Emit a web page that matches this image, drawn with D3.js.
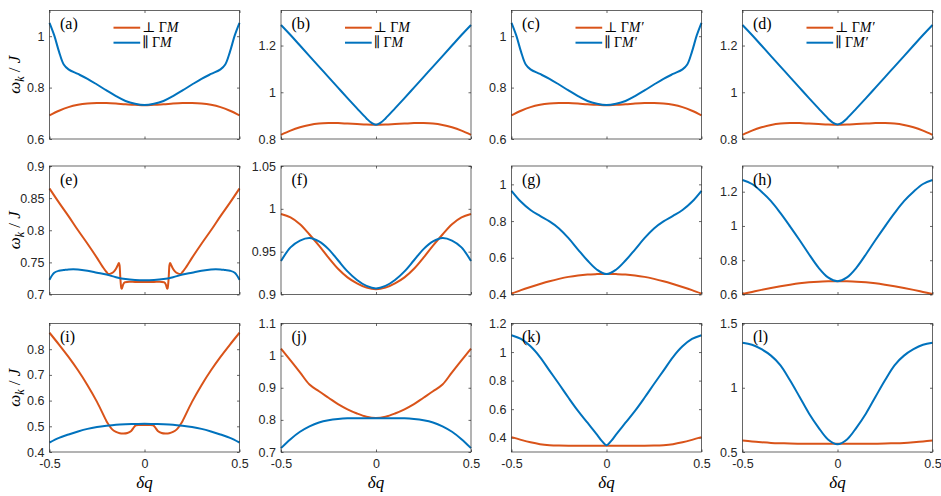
<!DOCTYPE html>
<html>
<head>
<meta charset="utf-8">
<script src="https://cdn.jsdelivr.net/npm/d3@7"></script>
<style>
  html, body { margin: 0; padding: 0; background: #fff; }
  svg { display: block; }
</style>
</head>
<body>
<svg id="chart" width="941" height="496"></svg>
<script>
// ---------------- DATA ----------------
const dq = [-0.5,-0.45,-0.4,-0.35,-0.3,-0.25,-0.2,-0.15,-0.1,-0.05,0,0.05,0.1,0.15,0.2,0.25,0.3,0.35,0.4,0.45,0.5];
const dqEdge = [-0.5,-0.475,-0.45,-0.425,-0.4,-0.35,-0.3,-0.25,-0.2,-0.15,-0.1,-0.05,0,0.05,0.1,0.15,0.2,0.25,0.3,0.35,0.4,0.425,0.45,0.475,0.5];
const dqV = [-0.5,-0.45,-0.4,-0.35,-0.3,-0.25,-0.2,-0.15,-0.1,-0.05,-0.025,0,0.025,0.05,0.1,0.15,0.2,0.25,0.3,0.35,0.4,0.45,0.5];
const dqSpikeE = [-0.5,-0.45,-0.4,-0.35,-0.3,-0.25,-0.22,-0.2,-0.19,-0.175,-0.16,-0.15,-0.14,-0.135,-0.131,-0.127,-0.122,-0.119,-0.113,-0.103,-0.08,-0.05,0,
                  0.05,0.08,0.103,0.113,0.119,0.122,0.127,0.131,0.135,0.14,0.15,0.16,0.175,0.19,0.2,0.22,0.25,0.3,0.35,0.4,0.45,0.5];
const dqDipI = [-0.5,-0.45,-0.4,-0.35,-0.3,-0.25,-0.2,-0.19,-0.17,-0.15,-0.13,-0.11,-0.09,-0.07,-0.055,-0.045,-0.02,0,
                0.02,0.045,0.055,0.07,0.09,0.11,0.13,0.15,0.17,0.19,0.2,0.25,0.3,0.35,0.4,0.45,0.5];

const xTicks = [-0.5, 0, 0.5];
const panelLabels = ["(a)","(b)","(c)","(d)","(e)","(f)","(g)","(h)","(i)","(j)","(k)","(l)"];
const yDomains = [[0.6,1.1],[0.8,1.35],[0.6,1.1],[0.8,1.35],
                  [0.7,0.9],[0.9,1.05],[0.4,1.1],[0.6,1.35],
                  [0.4,0.9],[0.7,1.1],[0.3,1.2],[0.5,1.5]];
const yTicks = [[0.6,0.8,1],[0.8,1,1.2],[0.6,0.8,1],[0.8,1,1.2],
                [0.7,0.75,0.8,0.85,0.9],[0.9,0.95,1,1.05],[0.4,0.6,0.8,1],[0.6,0.8,1,1.2],
                [0.4,0.5,0.6,0.7,0.8],[0.7,0.8,0.9,1,1.1],[0.4,0.6,0.8,1,1.2],[0.5,1,1.5]];

// perpendicular (orange) series
const perpA = [0.692,0.710,0.724,0.733,0.738,0.740,0.740,0.738,0.735,0.733,0.731,0.733,0.735,0.738,0.740,0.740,0.738,0.733,0.724,0.710,0.692];
const perpB = [0.818,0.836,0.850,0.860,0.866,0.868,0.868,0.866,0.864,0.862,0.861,0.862,0.864,0.866,0.868,0.868,0.866,0.860,0.850,0.836,0.818];
const perpC = [0.692,0.710,0.724,0.733,0.738,0.740,0.740,0.738,0.735,0.733,0.731,0.733,0.735,0.738,0.740,0.740,0.738,0.733,0.724,0.710,0.692];
const perpD = [0.818,0.836,0.850,0.860,0.866,0.868,0.868,0.866,0.864,0.862,0.861,0.862,0.864,0.866,0.868,0.868,0.866,0.860,0.850,0.836,0.818];
const perpE = [0.865,0.843,0.822,0.800,0.779,0.757,0.743,0.735,0.732,0.733,0.736,0.740,0.746,0.749,0.745,0.725,0.710,0.709,0.715,0.719,0.7198,0.7196,0.7195,
               0.7196,0.7198,0.719,0.715,0.709,0.710,0.725,0.745,0.749,0.746,0.740,0.736,0.733,0.732,0.735,0.743,0.757,0.779,0.800,0.822,0.843,0.865];
const perpF = [0.994,0.990,0.982,0.970,0.957,0.943,0.930,0.920,0.913,0.908,0.906,0.908,0.913,0.920,0.930,0.943,0.957,0.970,0.982,0.990,0.994];
const perpG = [0.405,0.424,0.441,0.457,0.472,0.485,0.496,0.504,0.509,0.511,0.512,0.511,0.509,0.504,0.496,0.485,0.472,0.457,0.441,0.424,0.405];
const perpH = [0.603,0.615,0.627,0.638,0.648,0.657,0.665,0.671,0.675,0.677,0.678,0.677,0.675,0.671,0.665,0.657,0.648,0.638,0.627,0.615,0.603];
const perpI = [0.864,0.818,0.770,0.718,0.660,0.595,0.520,0.508,0.488,0.478,0.473,0.472,0.474,0.482,0.497,0.504,0.505,0.505,
               0.505,0.504,0.497,0.482,0.474,0.472,0.473,0.478,0.488,0.508,0.520,0.595,0.660,0.718,0.770,0.818,0.864];
const perpJ = [1.022,0.985,0.948,0.910,0.889,0.869,0.849,0.833,0.820,0.810,0.806,0.810,0.820,0.833,0.849,0.869,0.889,0.910,0.948,0.985,1.022];
const perpK = [0.404,0.385,0.368,0.355,0.348,0.345,0.344,0.344,0.344,0.344,0.344,0.344,0.344,0.344,0.344,0.345,0.348,0.355,0.368,0.385,0.404];
const perpL = [0.590,0.582,0.576,0.571,0.568,0.566,0.565,0.565,0.565,0.565,0.565,0.565,0.565,0.565,0.565,0.566,0.568,0.571,0.576,0.582,0.590];

// parallel (blue) series
const parA = [1.052,1.003,0.940,0.890,0.871,0.853,0.834,0.812,0.789,0.767,0.748,0.737,0.732,0.737,0.748,0.767,0.789,0.812,0.834,0.853,0.871,0.890,0.940,1.003,1.052];
const parB = [1.288,1.245,1.200,1.155,1.110,1.065,1.020,0.975,0.931,0.888,0.870,0.861,0.870,0.888,0.931,0.975,1.020,1.065,1.110,1.155,1.200,1.245,1.288];
const parC = [1.052,1.003,0.940,0.890,0.871,0.853,0.834,0.812,0.789,0.767,0.748,0.737,0.732,0.737,0.748,0.767,0.789,0.812,0.834,0.853,0.871,0.890,0.940,1.003,1.052];
const parD = [1.288,1.245,1.200,1.155,1.110,1.065,1.020,0.975,0.931,0.888,0.870,0.862,0.870,0.888,0.931,0.975,1.020,1.065,1.110,1.155,1.200,1.245,1.288];
const parE = [0.723,0.734,0.737,0.738,0.739,0.739,0.737,0.734,0.731,0.727,0.724,0.7225,0.722,0.7225,0.724,0.727,0.731,0.734,0.737,0.739,0.739,0.738,0.737,0.734,0.723];
const parF = [0.939,0.955,0.963,0.966,0.962,0.953,0.940,0.927,0.917,0.910,0.907,0.910,0.917,0.927,0.940,0.953,0.962,0.966,0.963,0.955,0.939];
const parG = [0.965,0.905,0.860,0.828,0.798,0.760,0.707,0.645,0.585,0.535,0.511,0.535,0.585,0.645,0.707,0.760,0.798,0.828,0.860,0.905,0.965];
const parH = [1.268,1.245,1.200,1.145,1.075,0.998,0.918,0.835,0.757,0.700,0.678,0.700,0.757,0.835,0.918,0.998,1.075,1.145,1.200,1.245,1.268];
const parI = [0.437,0.455,0.468,0.480,0.490,0.497,0.502,0.506,0.508,0.509,0.510,0.509,0.508,0.506,0.502,0.497,0.490,0.480,0.468,0.455,0.437];
const parJ = [0.712,0.740,0.763,0.780,0.792,0.799,0.803,0.805,0.805,0.805,0.805,0.805,0.805,0.805,0.803,0.799,0.792,0.780,0.763,0.740,0.712];
const parK = [1.118,1.092,1.040,0.965,0.870,0.776,0.680,0.588,0.505,0.422,0.378,0.348,0.378,0.422,0.505,0.588,0.680,0.776,0.870,0.965,1.040,1.092,1.118];
const parL = [1.351,1.335,1.300,1.250,1.175,1.058,0.930,0.800,0.690,0.598,0.560,0.598,0.690,0.800,0.930,1.058,1.175,1.250,1.300,1.335,1.351];

const perpSeries = [[dq,perpA],[dq,perpB],[dq,perpC],[dq,perpD],[dqSpikeE,perpE],[dq,perpF],[dq,perpG],[dq,perpH],[dqDipI,perpI],[dq,perpJ],[dq,perpK],[dq,perpL]];
const parSeries  = [[dqEdge,parA],[dqV,parB],[dqEdge,parC],[dqV,parD],[dqEdge,parE],[dq,parF],[dq,parG],[dq,parH],[dq,parI],[dq,parJ],[dqV,parK],[dq,parL]];
const legendDirs = ["M","M","M′","M′"];

// ---------------- LAYOUT / STYLE ----------------
const colLeft = [49.5, 281, 511.5, 742.5], colW = 190;
const rowTop = [10.5, 166, 323.5], rowH = 128.5;
const ORANGE = "#D95319", BLUE = "#0072BD", AXIS = "#262626";
const tickLen = 2.5;
const sans = "'Liberation Sans', Arial, Helvetica, sans-serif";
const serif = "'Liberation Serif', 'DejaVu Serif', 'Times New Roman', serif";

const svg = d3.select("#chart");
svg.append("rect").attr("width", 941).attr("height", 496).attr("fill", "#fff");

const fmt = d => String(d);

panelLabels.forEach((lab, p) => {
  const row = Math.floor(p / 4), col = p % 4;
  const L = colLeft[col], T = rowTop[row];
  const x = d3.scaleLinear().domain([-0.5, 0.5]).range([L, L + colW]);
  const y = d3.scaleLinear().domain(yDomains[p]).range([T + rowH, T]);
  const g = svg.append("g");

  const styleAxis = sel => {
    sel.select(".domain").remove();
    sel.selectAll(".tick line").attr("stroke", AXIS).attr("stroke-width", 0.7);
    sel.selectAll(".tick text").attr("fill", AXIS).style("font-family", sans).style("font-size", "12.5px");
  };
  g.append("g").attr("transform", `translate(${L},0)`)
    .call(d3.axisLeft(y).tickValues(yTicks[p]).tickFormat(fmt).tickSizeInner(-tickLen).tickSizeOuter(0).tickPadding(5))
    .call(styleAxis);
  g.append("g").attr("transform", `translate(${L + colW},0)`)
    .call(d3.axisRight(y).tickValues(yTicks[p]).tickFormat("").tickSizeInner(-tickLen).tickSizeOuter(0))
    .call(styleAxis);
  g.append("g").attr("transform", `translate(0,${T})`)
    .call(d3.axisTop(x).tickValues(xTicks).tickFormat("").tickSizeInner(-tickLen).tickSizeOuter(0))
    .call(styleAxis);
  g.append("g").attr("transform", `translate(0,${T + rowH})`)
    .call(d3.axisBottom(x).tickValues(xTicks).tickFormat(row === 2 ? fmt : "").tickSizeInner(-tickLen).tickSizeOuter(0).tickPadding(7))
    .call(styleAxis);

  // lines
  const curve = p === 4 ? d3.curveMonotoneX : d3.curveCatmullRom.alpha(0.5);
  const line = d3.line().x(d => x(d[0])).y(d => y(d[1])).curve(curve);
  const lineB = d3.line().x(d => x(d[0])).y(d => y(d[1])).curve(d3.curveCatmullRom.alpha(0.5));
  const mk = s => s[0].map((v, i) => [v, s[1][i]]);
  g.append("path").datum(mk(perpSeries[p])).attr("d", line)
    .attr("fill", "none").attr("stroke", ORANGE).attr("stroke-width", 2).attr("stroke-linejoin", "round");
  g.append("path").datum(mk(parSeries[p])).attr("d", lineB)
    .attr("fill", "none").attr("stroke", BLUE).attr("stroke-width", 2).attr("stroke-linejoin", "round");

  // box
  g.append("rect").attr("x", L).attr("y", T).attr("width", colW).attr("height", rowH)
    .attr("fill", "none").attr("stroke", AXIS).attr("stroke-width", 0.7);

  // panel label
  g.append("text").attr("x", L + 10.5).attr("y", T + 18.5)
    .style("font-family", serif).style("font-size", "16px").attr("fill", "#000").text(lab);

  // legend (row 1)
  if (row === 0) {
    const ents = [["⊥ Γ", ORANGE], ["∥ Γ", BLUE]];
    ents.forEach((e, k) => {
      const ly = T + 17.2 + k * 15;
      g.append("line").attr("x1", L + 64).attr("x2", L + 90.7).attr("y1", ly).attr("y2", ly)
        .attr("stroke", e[1]).attr("stroke-width", 2);
      const t = g.append("text").attr("x", L + 92.5).attr("y", ly + 4.5)
        .style("font-family", serif).style("font-size", "14px").attr("fill", "#000");
      t.append("tspan").text(e[0]);
      t.append("tspan").style("font-style", "italic").text(legendDirs[col]);
    });
  }

  // y label (col 1)
  if (col === 0) {
    const t = svg.append("text").attr("transform", `translate(20,${T + rowH / 2}) rotate(-90)`)
      .attr("text-anchor", "middle").style("font-family", serif).style("font-size", "17px").attr("fill", "#000");
    t.append("tspan").style("font-style", "italic").text("ω");
    t.append("tspan").style("font-style", "italic").style("font-size", "12px").attr("dy", 3.5).text("k");
    t.append("tspan").attr("dy", -3.5).text(" / ");
    t.append("tspan").style("font-style", "italic").text("J");
  }

  // x label (row 3)
  if (row === 2) {
    svg.append("text").attr("x", L + colW / 2).attr("y", 488).attr("text-anchor", "middle")
      .style("font-family", serif).style("font-size", "17px").style("font-style", "italic").attr("fill", "#000").text("δq");
  }
});
</script>
</body>
</html>
